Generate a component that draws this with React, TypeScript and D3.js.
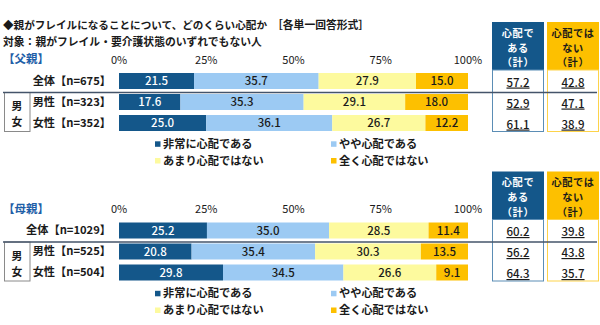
import React from "react";
import * as d3 from "d3";

const seriesNames = ["非常に心配である", "やや心配である", "あまり心配ではない", "全く心配ではない"];
const seriesColors = ["#14578a", "#9ccaf3", "#fdfa9e", "#fdc000"];
const seriesText = ["#ffffff", "#1a1a1a", "#1a1a1a", "#1a1a1a"];

const fatherCats = ["全体【n=675】", "男性【n=323】", "女性【n=352】"];
const fatherVery = [21.5, 17.6, 25.0];
const fatherSomewhat = [35.7, 35.3, 36.1];
const fatherNotVery = [27.9, 29.1, 26.7];
const fatherNotAtAll = [15.0, 18.0, 12.2];
const fatherWorried = [57.2, 52.9, 61.1];
const fatherNotWorried = [42.8, 47.1, 38.9];

const motherCats = ["全体【n=1029】", "男性【n=525】", "女性【n=504】"];
const motherVery = [25.2, 20.8, 29.8];
const motherSomewhat = [35.0, 35.4, 34.5];
const motherNotVery = [28.5, 30.3, 26.6];
const motherNotAtAll = [11.4, 13.5, 9.1];
const motherWorried = [60.2, 56.2, 64.3];
const motherNotWorried = [39.8, 43.8, 35.7];

const ticks = [0, 25, 50, 75, 100];
const headWorried = ["心配で", "ある", "（計）"];
const headNotWorried = ["心配では", "ない", "（計）"];
const genderChars = ["男", "女"];

const FONT = "'Noto Sans CJK JP', 'Noto Sans', sans-serif";

const x = d3.scaleLinear().domain([0, 100]).range([119, 468]);

type SectionProps = {
  label: string;
  cats: string[];
  series: number[][];
  worried: number[];
  notWorried: number[];
  dy: number;
};

function Section({ label, cats, series, worried, notWorried, dy }: SectionProps) {
  const y = d3.scaleBand<string>().domain(cats).range([73 + dy, 131 + dy]).paddingInner(0.238).paddingOuter(0);
  const stack = cats.map((_, i) => {
    let acc = 0;
    return series.map((s) => {
      const x0 = acc;
      acc = Math.min(100, acc + s[i]);
      return { x0, x1: acc, v: s[i] };
    });
  });
  const boxTop = 22 + dy;
  const headBottom = 70 + dy;
  const boxBottom = 132 + dy;
  const sepY = 92.5 + dy;
  const bx1 = 492, bw1 = 52, bx2 = 547, bw2 = 52;
  const hy = (i: number) => 33.4 + dy + i * 14.7;
  return (
    <g fontFamily={FONT}>
      <text x={3} y={59 + dy} dy="0.35em" fontSize={11.5} fontWeight="bold" fill="#1f5fa8">{label}</text>
      {ticks.map((t) => (
        <text key={t} x={x(t)} y={60 + dy} dy="0.35em" textAnchor="middle" fontSize={11} fill="#1a1a1a">{t}%</text>
      ))}
      <rect x={bx1} y={boxTop} width={bw1} height={headBottom - boxTop} fill="#14578a" />
      <rect x={bx2} y={boxTop} width={bw2} height={headBottom - boxTop} fill="#fdc000" />
      {headWorried.map((t, i) => (
        <text key={t} x={bx1 + bw1 / 2} y={hy(i)} dy="0.35em" textAnchor="middle" fontSize={10.2} fontWeight="bold" letterSpacing={0.6} fill="#fff">{t}</text>
      ))}
      {headNotWorried.map((t, i) => (
        <text key={t} x={bx2 + bw2 / 2} y={hy(i)} dy="0.35em" textAnchor="middle" fontSize={10.2} fontWeight="bold" letterSpacing={0.6} fill="#1a1a1a">{t}</text>
      ))}
      <rect x={bx1 + 0.5} y={headBottom} width={bw1 - 1} height={boxBottom - headBottom - 0.5} fill="#fff" stroke="#5b8db5" strokeWidth={1} />
      <rect x={bx2 + 0.5} y={headBottom} width={bw2 - 1} height={boxBottom - headBottom - 0.5} fill="#fff" stroke="#fdd34a" strokeWidth={1} />
      <rect x={4.5} y={sepY} width={25.5} height={boxBottom - sepY - 0.5} fill="#fff" stroke="#8a8a8a" strokeWidth={1} />
      {genderChars.map((g, i) => (
        <text key={g} x={17} y={106.6 + dy + i * 15.9} dy="0.35em" textAnchor="middle" fontSize={10.8} fontWeight="bold" fill="#1a1a1a">{g}</text>
      ))}
      {cats.map((c, i) => {
        const yy = y(c)!;
        const h = y.bandwidth();
        const cy = yy + h / 2;
        return (
          <g key={c}>
            <text x={111} y={cy} dy="0.35em" textAnchor="end" fontSize={11.2} fontWeight="bold" fill="#1a1a1a">{c}</text>
            {stack[i].map((s, j) => (
              <g key={j}>
                <rect x={x(s.x0)} y={yy} width={x(s.x1) - x(s.x0)} height={h} fill={seriesColors[j]} />
                <text x={(x(s.x0) + x(s.x1)) / 2} y={cy} dy="0.35em" textAnchor="middle" fontSize={11.5} fontWeight={500} fill={seriesText[j]}>{s.v.toFixed(1)}</text>
              </g>
            ))}
            <text x={bx1 + bw1 / 2} y={cy + 1.5} dy="0.35em" textAnchor="middle" fontSize={11.5} fontWeight={500} fill="#1a1a1a" textDecoration="underline">{worried[i].toFixed(1)}</text>
            <text x={bx2 + bw2 / 2} y={cy + 1.5} dy="0.35em" textAnchor="middle" fontSize={11.5} fontWeight={500} fill="#1a1a1a" textDecoration="underline">{notWorried[i].toFixed(1)}</text>
          </g>
        );
      })}
      <line x1={3} x2={597} y1={sepY} y2={sepY} stroke="#44546a" strokeWidth={1.3} />
      {seriesNames.map((n, j) => {
        const lx = j % 2 === 0 ? 155 : 331;
        const ly = (j < 2 ? 144 : 160.7) + dy;
        return (
          <g key={n}>
            <rect x={lx} y={ly - 2.7} width={5.5} height={5.5} fill={seriesColors[j]} />
            <text x={lx + 8} y={ly} dy="0.35em" fontSize={11.2} fontWeight="bold" fill="#1a1a1a">{n}</text>
          </g>
        );
      })}
    </g>
  );
}

export default function App() {
  return (
    <svg width={600} height={325} style={{ position: "absolute", left: 0, top: 0, background: "#fff" }}>
      <rect x={0} y={0} width={600} height={325} fill="#fff" />
      <text x={3} y={25.5} dy="0.35em" fontFamily={FONT} fontSize={10.6} fontWeight="bold" fill="#1a1a1a">◆親がフレイルになることについて、どのくらい心配か</text>
      <text x={272} y={25.5} dy="0.35em" fontFamily={FONT} fontSize={10.8} fontWeight="bold" fill="#1a1a1a">［各単一回答形式］</text>
      <text x={3} y={42.5} dy="0.35em" fontFamily={FONT} fontSize={10.8} fontWeight="bold" fill="#1a1a1a">対象：親がフレイル・要介護状態のいずれでもない人</text>
      <Section label="【父親】" cats={fatherCats} series={[fatherVery, fatherSomewhat, fatherNotVery, fatherNotAtAll]} worried={fatherWorried} notWorried={fatherNotWorried} dy={0} />
      <Section label="【母親】" cats={motherCats} series={[motherVery, motherSomewhat, motherNotVery, motherNotAtAll]} worried={motherWorried} notWorried={motherNotWorried} dy={149.5} />
    </svg>
  );
}
